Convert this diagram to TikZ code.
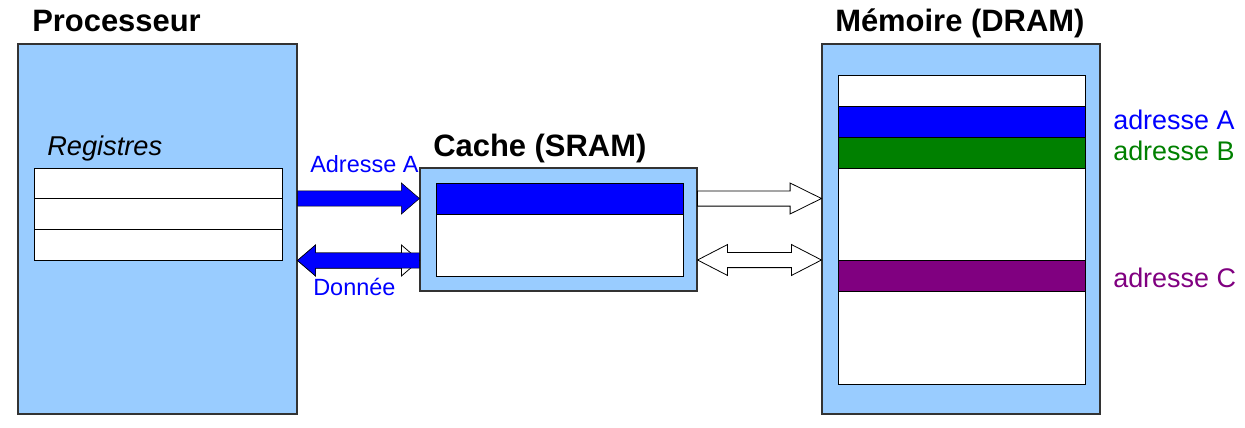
\documentclass[tikz,border=0pt]{standalone}
\usepackage{fontspec}
\setmainfont{Liberation Sans}
\usepackage{tikz}
\usetikzlibrary{positioning, fit, calc}
\definecolor{unitblue}{HTML}{99CCFF}
\definecolor{addrA}{HTML}{0000FF}
\definecolor{addrB}{HTML}{008000}
\definecolor{addrC}{HTML}{800080}
\tikzset{
  unitbox/.style   = {draw=black!80, fill=unitblue, inner sep=0pt, line width=0.8pt},
  cellbox/.style   = {draw=black, fill=white, inner sep=0pt, line width=0.6pt},
  unittitle/.style = {font=\fontsize{23.2}{28}\selectfont\bfseries,
                      anchor=base west, inner sep=0pt},
  bustext/.style   = {font=\fontsize{17.6}{21}\selectfont, text=addrA,
                      anchor=base west, inner sep=0pt},
  addrtext/.style  = {font=\fontsize{20.2}{24}\selectfont,
                      anchor=base west, inner sep=0pt},
  bluebus/.style   = {fill=addrA, draw=black, line width=0.4pt},
  whitebus/.style  = {fill=white, draw=black, line width=0.6pt},
  busarrow/.style  = {to path={let \p1=(\tikztostart), \p2=(\tikztotarget),
      \n1={sign(\x2-\x1)} in
      (\x1,\y1+5.7pt) -- ({\x2-\n1*#1},\y1+5.7pt) -- ({\x2-\n1*#1},\y1+11.6pt)
      -- (\x2,\y1) -- ({\x2-\n1*#1},\y1-11.6pt) -- ({\x2-\n1*#1},\y1-5.7pt)
      -- (\x1,\y1-5.7pt) -- cycle}},
  busarrows/.style = {to path={let \p1=(\tikztostart), \p2=(\tikztotarget),
      \n1={sign(\x2-\x1)} in
      (\x1,\y1) -- ({\x1+\n1*#1},\y1+11.6pt) -- ({\x1+\n1*#1},\y1+5.7pt)
      -- ({\x2-\n1*#1},\y1+5.7pt) -- ({\x2-\n1*#1},\y1+11.6pt) -- (\x2,\y1)
      -- ({\x2-\n1*#1},\y1-11.6pt) -- ({\x2-\n1*#1},\y1-5.7pt)
      -- ({\x1+\n1*#1},\y1-5.7pt) -- ({\x1+\n1*#1},\y1-11.6pt) -- cycle}},
}

\begin{document}
\begin{tikzpicture}[x=0.75pt, y=-0.75pt]

    \useasboundingbox (0,0) rectangle (1245,428);

    % --- processor --------------------------------------------------------
    \node[unitbox, fit={(18,44) (297,414)}] (proc) {};
    \node[unittitle] (proctitle) at (32,32) {Processeur};
    \node[font=\fontsize{20.4}{24}\selectfont\itshape, anchor=base west,
      inner sep=0pt] (regtitle) at (47,155) {Registres};
    \foreach \i in {0,1,2}
      \node[cellbox, fit={(34,{168+30.67*\i}) (282,{198.67+30.67*\i})}]
        (reg\i) {};

    % --- cache --------------------------------------------------------------
    \node[unitbox, fit={(420,168) (697,291)}] (cache) {};
    \node[unittitle] (cachetitle) at (433,156) {Cache (SRAM)};
    \node[cellbox, fit={(436,183) (683,276)}] (cachelines) {};
    \node[cellbox, fill=addrA, fit={(436,183) (683,214)}] (cacheA) {};

    % --- main memory -------------------------------------------------------
    \node[unitbox, fit={(822,44) (1100,414)}] (mem) {};
    \node[unittitle] (memtitle) at (835,32) {Mémoire (DRAM)};
    \node[cellbox, fit={(838,75) (1085,384)}] (memlines) {};
    \node[cellbox, fill=addrA, fit={(838,106) (1085,137)}] (memA) {};
    \node[cellbox, fill=addrB, fit={(838,137) (1085,168)}] (memB) {};
    \node[cellbox, fill=addrC, fit={(838,260) (1085,291)}] (memC) {};

    \node[addrtext, text=addrA] (addrA) at (1113,129) {adresse A};
    \node[addrtext, text=addrB] (addrB) at (1113,160) {adresse B};
    \node[addrtext, text=addrC] (addrC) at (1113,287) {adresse C};

    % --- processor <-> cache -----------------------------------------------
    \draw[whitebus] (proc.east |- 0,260.5) to[busarrows=13.5pt]
      (cache.west |- 0,260.5);
    \draw[bluebus] (proc.east |- 0,198.5) to[busarrow=13.5pt]
      (cache.west |- 0,198.5);
    \draw[bluebus] (cache.west |- 0,260.5) to[busarrow=13.5pt]
      (proc.east |- 0,260.5);
    \node[bustext] (adrtext) at (310,172) {Adresse A};
    \node[bustext] (datatext) at (313,295) {Donnée};

    % --- cache <-> memory --------------------------------------------------
    \draw[whitebus] (cache.east |- 0,198.5) to[busarrow=23.5pt]
      (mem.west |- 0,198.5);
    \draw[whitebus] (cache.east |- 0,260) to[busarrows=22.5pt]
      (mem.west |- 0,260);

\end{tikzpicture}
\end{document}
